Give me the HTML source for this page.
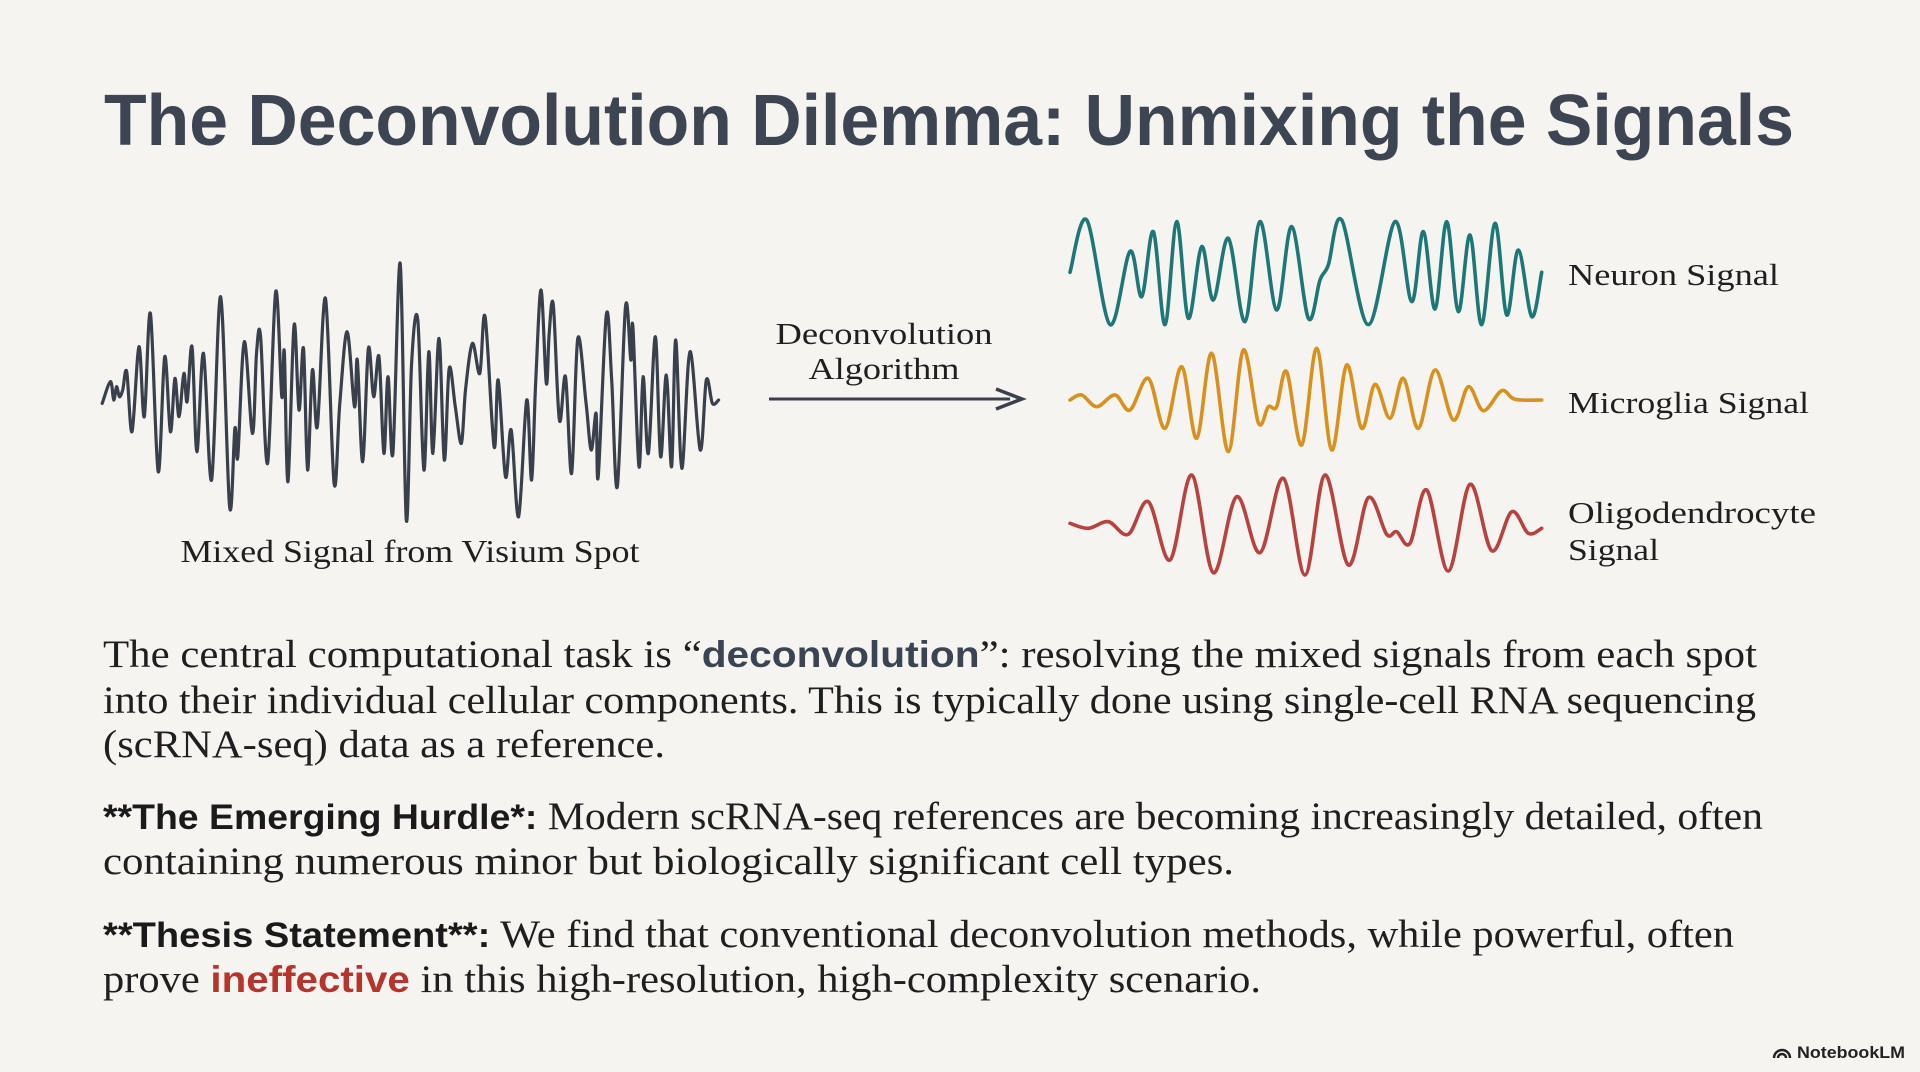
<!DOCTYPE html>
<html><head><meta charset="utf-8"><style>
html,body{margin:0;padding:0;background:#f6f4f0;}
svg{display:block;}
.serif{font-family:"Liberation Serif",serif;fill:#1f1f1f;}
.sans{font-family:"Liberation Sans",sans-serif;}
</style></head><body>
<svg id="slide" width="1920" height="1072" viewBox="0 0 1920 1072">
<rect width="1920" height="1072" fill="#f6f4f0"/>
<text x="104" y="145" class="sans" font-size="72" font-weight="bold" fill="#3d4553" textLength="1690" lengthAdjust="spacingAndGlyphs">The Deconvolution Dilemma: Unmixing the Signals</text>

<g id="waves"></g>

<text x="410" y="562" class="serif" font-size="32" text-anchor="middle" textLength="459" lengthAdjust="spacingAndGlyphs">Mixed Signal from Visium Spot</text>
<text x="884" y="344" class="serif" font-size="31" text-anchor="middle" textLength="217" lengthAdjust="spacingAndGlyphs">Deconvolution</text>
<text x="884" y="379" class="serif" font-size="31" text-anchor="middle" textLength="151" lengthAdjust="spacingAndGlyphs">Algorithm</text>
<g>
<line x1="769" y1="399" x2="1010" y2="399" stroke="#3a414c" stroke-width="3"/>
<path d="M996 389 L1022 399 L996 409" fill="none" stroke="#3a414c" stroke-width="3.5" stroke-linejoin="miter"/>
</g>
<text x="1568" y="285" class="serif" font-size="31" textLength="211" lengthAdjust="spacingAndGlyphs">Neuron Signal</text>
<text x="1568" y="413" class="serif" font-size="31" textLength="241" lengthAdjust="spacingAndGlyphs">Microglia Signal</text>
<text x="1568" y="523" class="serif" font-size="31" textLength="248" lengthAdjust="spacingAndGlyphs">Oligodendrocyte</text>
<text x="1568" y="560" class="serif" font-size="31" textLength="91" lengthAdjust="spacingAndGlyphs">Signal</text>

<g>
<text x="103" y="667" class="serif" font-size="39" textLength="1654" lengthAdjust="spacingAndGlyphs">The central computational task is “<tspan class="sans" font-weight="bold" fill="#3a4452" font-size="37">deconvolution</tspan>”: resolving the mixed signals from each spot</text>
<text x="103" y="713" class="serif" font-size="39" textLength="1653" lengthAdjust="spacingAndGlyphs">into their individual cellular components. This is typically done using single-cell RNA sequencing</text>
<text x="103" y="757" class="serif" font-size="39" textLength="562" lengthAdjust="spacingAndGlyphs">(scRNA-seq) data as a reference.</text>
</g>
<g>
<text x="103" y="829" class="serif" font-size="39" textLength="1660" lengthAdjust="spacingAndGlyphs"><tspan class="sans" font-weight="bold" fill="#1a1a1a" font-size="35">**The Emerging Hurdle*:</tspan> Modern scRNA-seq references are becoming increasingly detailed, often</text>
<text x="103" y="874" class="serif" font-size="39" textLength="1131" lengthAdjust="spacingAndGlyphs">containing numerous minor but biologically significant cell types.</text>
</g>
<g>
<text x="103" y="947" class="serif" font-size="39" textLength="1631" lengthAdjust="spacingAndGlyphs"><tspan class="sans" font-weight="bold" fill="#1a1a1a" font-size="35">**Thesis Statement**:</tspan> We find that conventional deconvolution methods, while powerful, often</text>
<text x="103" y="992" class="serif" font-size="39" textLength="1158" lengthAdjust="spacingAndGlyphs">prove <tspan class="sans" font-weight="bold" fill="#b5342c" font-size="37">ineffective</tspan> in this high-resolution, high-complexity scenario.</text>
</g>

<g>
<path d="M1774 1058 a8 8 0 0 1 16 0 M1778 1058 a4 4 0 0 1 8 0" fill="none" stroke="#222" stroke-width="2.5"/>
<text x="1797" y="1058" class="sans" font-size="17" font-weight="bold" fill="#222" textLength="108" lengthAdjust="spacingAndGlyphs">NotebookLM</text>
</g>
</svg>
<script>
// Mixed signal (time units, amplitude units)
const mixedT = [30,50,58,65,72,80,90,103,120,133,148,167,183,197,208,218,230,238,250,262,278,298,320,342,355,362,378,398,408,418,435,455,470,476,485,500,512,523,533,545,557,577,598,612,630,648,655,668,682,695,708,720,730,742,760,775,788,803,818,830,840,855,868,880,895,910,920,937,955,968,990,1000,1018,1032,1050,1070,1082,1092,1105,1118,1125,1135,1150,1165,1180,1195,1215,1228,1240,1245,1265,1278,1292,1312,1325,1330,1345,1355,1368,1385,1398,1412,1425,1435,1450,1470,1495,1510,1525,1540];
const mixedV = [-5,60,5,45,15,35,90,-90,165,-45,265,-210,135,-90,70,-45,85,0,165,-150,145,-235,315,-315,-80,-165,180,-95,145,195,-185,330,15,150,-240,230,-25,160,-205,95,-75,310,-245,-5,210,-15,125,-180,160,15,135,-155,75,-155,415,-355,115,245,-205,150,-155,190,-175,100,-15,-125,35,175,85,255,-135,65,-225,-85,-345,5,-235,60,335,55,205,290,-55,75,-215,190,0,-145,-35,-225,260,70,-255,285,125,225,-195,75,-155,195,-165,80,-195,185,-200,150,-145,65,-5,5];
// Neuron
const neuronT = [60,110,180,240,275,310,345,380,415,455,490,535,585,630,680,725,775,810,835,875,955,1035,1085,1120,1155,1190,1225,1260,1295,1335,1370,1405,1445,1475];
const neuronV = [0,157,-157,63,-73,122,-157,152,-138,77,-83,102,-148,152,-113,137,-138,-23,22,157,-157,152,-88,122,-110,152,-118,112,-157,147,-128,67,-133,0];
// Microglia
const microT = [60,95,140,195,240,295,345,395,440,485,535,580,625,655,680,710,755,800,845,890,935,975,1020,1060,1105,1155,1210,1255,1300,1355,1395,1475];
const microV = [0,15,-20,15,-30,65,-85,100,-115,140,-155,150,-68,-20,-20,85,-135,155,-150,105,-85,47,-55,65,-85,90,-60,40,-32,28,2,0];
// Oligodendrocyte
const oligoT = [60,115,175,235,295,360,425,490,560,630,700,765,825,895,955,1010,1040,1080,1130,1195,1260,1325,1385,1435,1475];
const oligoV = [5,-10,10,-28,70,-105,150,-143,85,-83,140,-150,150,-120,82,-28,-20,-55,105,-138,122,-77,40,-25,-10];

function makeScale(d0,d1,r0,r1){return v=>r0+(v-d0)/(d1-d0)*(r1-r0);}
function pathFrom(T,V,xs,ys){
  const p=T.map((t,i)=>[xs(t),ys(V[i])]);
  let d='M'+p[0][0].toFixed(1)+' '+p[0][1].toFixed(1);
  for(let i=0;i<p.length-1;i++){
    const p0=p[i-1]||p[i],p1=p[i],p2=p[i+1],p3=p[i+2]||p[i+1];
    const c1=[p1[0]+(p2[0]-p0[0])/6,p1[1]+(p2[1]-p0[1])/6];
    const c2=[p2[0]-(p3[0]-p1[0])/6,p2[1]-(p3[1]-p1[1])/6];
    d+=' C'+c1.map(n=>n.toFixed(1)).join(' ')+' '+c2.map(n=>n.toFixed(1)).join(' ')+' '+p2[0].toFixed(1)+' '+p2[1].toFixed(1);
  }
  return d;
}
const NS='http://www.w3.org/2000/svg';
const g=document.getElementById('waves');
function addWave(T,V,xs,ys,color,w,name){
  const el=document.createElementNS(NS,'path');
  el.setAttribute('d',pathFrom(T,V,xs,ys));
  el.setAttribute('fill','none');
  el.setAttribute('stroke',color);
  el.setAttribute('stroke-width',w);
  el.setAttribute('stroke-linejoin','round');
  el.setAttribute('stroke-linecap','round');
  
  
  g.appendChild(el);
}
addWave(mixedT,mixedV,makeScale(0,2.45,90,91),makeScale(0,3,401.7,400.7),'#39404b',3.2,'mixed-signal-wave');
addWave(neuronT,neuronV,makeScale(0,3,1050,1051),makeScale(0,3,272.3,271.3),'#1d7776',3.6,'neuron-signal-wave');
addWave(microT,microV,makeScale(0,3,1050,1051),makeScale(0,3,400,399),'#d8901f',3.6,'microglia-signal-wave');
addWave(oligoT,oligoV,makeScale(0,3,1050,1051),makeScale(0,3,525,524),'#b8423f',3.6,'oligodendrocyte-signal-wave');
</script>
</body></html>
